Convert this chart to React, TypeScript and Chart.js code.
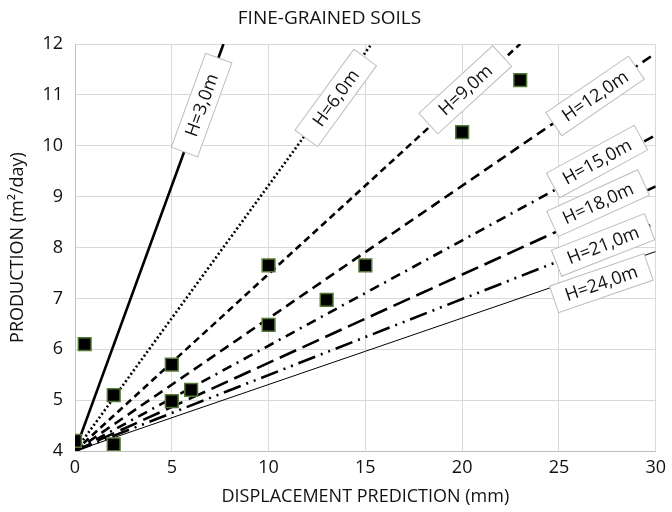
import React, { useEffect, useRef } from 'react';
import { Chart, registerables } from 'chart.js';

Chart.register(...registerables);

// ---- Data ----
const chartTitle = 'FINE-GRAINED SOILS';
const xAxisTitle = 'DISPLACEMENT PREDICTION (mm)';
const yAxisTitle = 'PRODUCTION (m²/day)';

const xMin = 0;
const xMax = 30;
const xStep = 5;
const yMin = 4;
const yMax = 12;
const yStep = 1;

// measured points
const pointX = [0, 0.5, 2, 2, 5, 5, 6, 10, 10, 13, 15, 20, 23];
const pointY = [4.2, 6.1, 5.1, 4.13, 5.7, 4.98, 5.2, 7.65, 6.48, 6.97, 7.65, 10.27, 11.29];

// H reference lines (start point shared, end points)
const lineNames = ['H=3,0m', 'H=6,0m', 'H=9,0m', 'H=12,0m', 'H=15,0m', 'H=18,0m', 'H=21,0m', 'H=24,0m'];
const lineStartX = 0;
const lineStartY = 4;
const lineEndX = [7.67, 15.32, 23.0, 30, 30, 30, 30, 30];
const lineEndY = [12, 12, 12, 11.82, 10.21, 9.2, 8.48, 7.92];

// label box centres (data units)
const labelX = [6.54, 13.47, 20.16, 26.87, 26.97, 27.02, 27.28, 27.19];
const labelY = [10.8, 10.94, 11.1, 10.98, 9.69, 8.87, 8.05, 7.3];

// ---- Styles ----
const lineDashes: number[][] = [[], [2, 2.5], [7, 4.5], [10, 6], [10, 6, 2, 6], [18, 7], [18, 6, 2, 6, 2, 6], []];
const lineWidths = [2.6, 2.6, 2.6, 2.6, 2.6, 2.6, 2.6, 1];
const FONT = '"Open Sans", "DejaVu Sans", sans-serif';
const TEXT_COLOR = '#111111';

const labelPlugin = {
  id: 'hLabels',
  afterDatasetsDraw(chart: any) {
    const { ctx } = chart;
    const xs = chart.scales.x;
    const ys = chart.scales.y;
    lineNames.forEach((name, i) => {
      const x0 = xs.getPixelForValue(lineStartX);
      const y0 = ys.getPixelForValue(lineStartY);
      const x1 = xs.getPixelForValue(lineEndX[i]);
      const y1 = ys.getPixelForValue(lineEndY[i]);
      const ang = Math.atan2(y1 - y0, x1 - x0);
      const cx = xs.getPixelForValue(labelX[i]);
      const cy = ys.getPixelForValue(labelY[i]);
      ctx.save();
      ctx.translate(cx, cy);
      ctx.rotate(ang);
      ctx.fillStyle = '#ffffff';
      ctx.strokeStyle = '#bdbdbd';
      ctx.lineWidth = 1;
      ctx.fillRect(-50, -14, 100, 28);
      ctx.strokeRect(-50, -14, 100, 28);
      ctx.fillStyle = TEXT_COLOR;
      ctx.font = '18px ' + FONT;
      ctx.textAlign = 'center';
      ctx.textBaseline = 'middle';
      ctx.fillText(name, 0, 1);
      ctx.restore();
    });
  },
};

export default function App() {
  const canvasRef = useRef<HTMLCanvasElement | null>(null);

  useEffect(() => {
    document.body.style.margin = '0';
    const canvas = canvasRef.current;
    if (!canvas) return;

    const lineDatasets = lineNames.map((name, i) => ({
      type: 'scatter' as const,
      label: name,
      data: [
        { x: lineStartX, y: lineStartY },
        { x: lineEndX[i], y: lineEndY[i] },
      ],
      showLine: true,
      borderColor: '#000000',
      backgroundColor: '#000000',
      borderWidth: lineWidths[i],
      borderDash: lineDashes[i],
      borderCapStyle: 'butt' as const,
      pointRadius: 0,
      pointHoverRadius: 0,
    }));

    const chart = new Chart(canvas, {
      type: 'scatter',
      data: {
        datasets: [
          {
            label: 'points',
            data: pointX.map((x, i) => ({ x, y: pointY[i] })),
            pointStyle: 'rect',
            pointRadius: 9,
            pointHoverRadius: 9,
            backgroundColor: '#000000',
            borderColor: '#557a36',
            pointBorderWidth: 1.5,
            showLine: false,
          } as any,
          ...lineDatasets,
        ],
      },
      options: {
        animation: false,
        responsive: false,
        devicePixelRatio: 1,
        layout: { padding: { left: 0, right: 13, top: 0, bottom: 0 } },
        plugins: {
          legend: { display: false },
          tooltip: { enabled: false },
          title: {
            display: true,
            text: chartTitle,
            color: TEXT_COLOR,
            font: { family: FONT, size: 19, weight: 'normal' },
            padding: { top: 7, bottom: 14.2 },
          },
        },
        scales: {
          x: {
            type: 'linear',
            min: xMin,
            max: xMax,
            ticks: { stepSize: xStep, color: TEXT_COLOR, font: { family: FONT, size: 18 }, padding: 6 },
            grid: { color: '#d9d9d9', drawTicks: false },
            border: { color: '#bfbfbf' },
            title: {
              display: true,
              text: xAxisTitle,
              color: TEXT_COLOR,
              font: { family: FONT, size: 18 },
              padding: { top: 4, bottom: 4 },
            },
            afterFit: (s: any) => {
              s.height = 61;
            },
          },
          y: {
            type: 'linear',
            min: yMin,
            max: yMax,
            ticks: { stepSize: yStep, color: TEXT_COLOR, font: { family: FONT, size: 18 }, padding: 12 },
            grid: { color: '#d9d9d9', drawTicks: false },
            border: { color: '#bfbfbf' },
            title: {
              display: true,
              text: yAxisTitle,
              color: TEXT_COLOR,
              font: { family: FONT, size: 18 },
              padding: { top: 7, bottom: 4 },
            },
            afterFit: (s: any) => {
              s.width = 75;
            },
          },
        },
      },
      plugins: [labelPlugin],
    });

    return () => {
      chart.destroy();
    };
  }, []);

  return (
    <div style={{ width: 672, height: 512 }}>
      <canvas ref={canvasRef} width={672} height={512} style={{ display: 'block' }} />
    </div>
  );
}
